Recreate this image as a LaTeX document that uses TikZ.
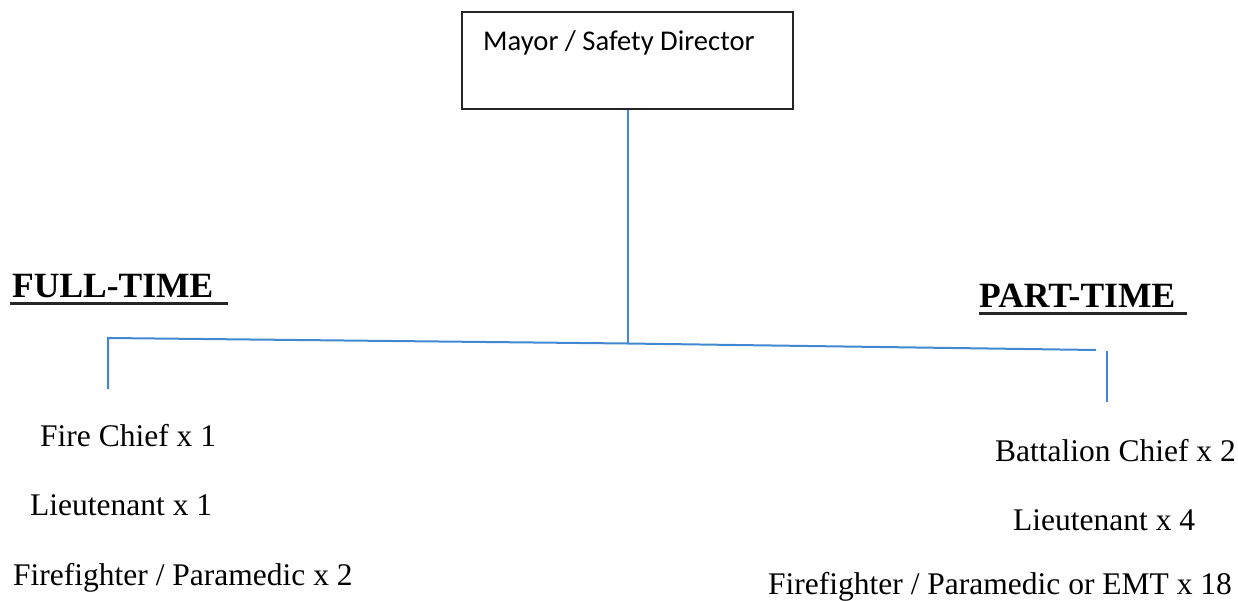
\documentclass[tikz,border=0pt]{standalone}
\usepackage{fontspec}
\setmainfont{Liberation Serif}
\newfontfamily\boxfont{Carlito}
\definecolor{linkblue}{RGB}{66,136,208}
\begin{document}
\begin{tikzpicture}[x=1bp,y=-1bp,
  conn/.style={draw=linkblue,line width=2bp},
  item/.style={inner sep=0pt,anchor=base west,font=\fontsize{31.5bp}{37bp}\selectfont},
  head/.style={inner sep=0pt,anchor=base west,font=\fontsize{35.5bp}{42bp}\selectfont\bfseries},
  uline/.style={line width=2.6bp,black!85},
  topbox/.style={draw=black!85,line width=1.4bp,minimum width=331bp,minimum height=97bp,inner sep=0pt}]
\useasboundingbox (0,0) rectangle (1238,601);
% top box
\node[topbox] (mayor) at (627.5,60.5) {};
\node[inner sep=0pt,anchor=base west,font=\boxfont\fontsize{28.6bp}{34bp}\selectfont] (mayortxt) at (483,51) {Mayor / Safety Director};
% headings
\node[head] (ft) at (12,298) {FULL-TIME};
\node[head] (pt) at (979,308) {PART-TIME};
\coordinate (ftul1) at (10,303.5);
\coordinate (ftul2) at (228,303.5);
\coordinate (ptul1) at (979,313.5);
\coordinate (ptul2) at (1187,313.5);
\draw[uline] (ftul1) -- (ftul2);
\draw[uline] (ptul1) -- (ptul2);
% connectors
\coordinate (j) at (627.5,343.5);
\coordinate (l) at (108,338);
\coordinate (lb) at (108,389);
\coordinate (r) at (1096,350);
\coordinate (rt) at (1107,351);
\coordinate (rb) at (1107,402);
\draw[conn] (mayor.south) -- (j);
\draw[conn] (lb) -- (l) -- (j) -- (r);
\draw[conn] (rt) -- (rb);
% full-time items
\node[item] (fc) at (40,446) {Fire Chief x 1};
\node[item] (fl) at (30,515) {Lieutenant x 1};
\node[item] (ff) at (13,585) {Firefighter / Paramedic x 2};
% part-time items
\node[item] (pb) at (995,461) {Battalion Chief x 2};
\node[item] (pl) at (1013,530) {Lieutenant x 4};
\node[item] (pf) at (768,594) {Firefighter / Paramedic or EMT x 18};
\end{tikzpicture}
\end{document}
